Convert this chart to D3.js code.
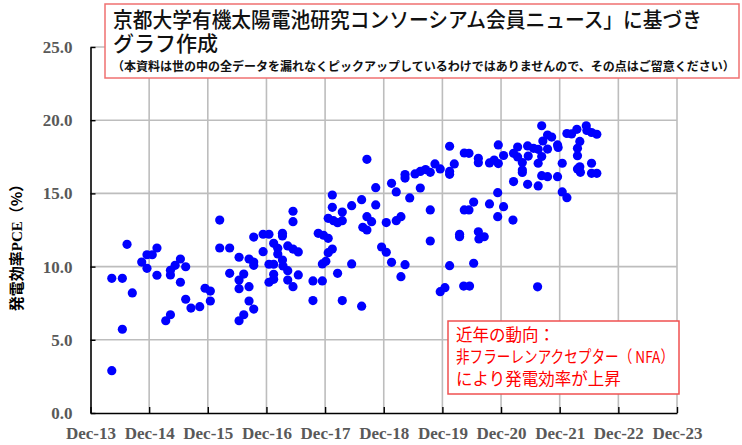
<!DOCTYPE html>
<html>
<head>
<meta charset="utf-8">
<script src="https://cdn.jsdelivr.net/npm/d3@7"></script>
<style>
  html, body { margin: 0; padding: 0; background: #fff; overflow: hidden; }
  svg { display: block; }
</style>
</head>
<body>
<svg id="chart" width="742" height="445"></svg>
<script>
// Publication date (decimal year) and power conversion efficiency (%) of each reported cell
const releaseDates = [
  2014.28, 2014.28, 2014.46, 2014.46, 2014.54, 2014.63, 2014.79, 2014.88, 2014.88, 2014.97,
  2015.05, 2015.05, 2015.20, 2015.28, 2015.28, 2015.28, 2015.36, 2015.45, 2015.54, 2015.45,
  2015.54, 2015.63, 2015.78, 2015.87, 2015.96, 2015.96, 2016.12, 2016.12, 2016.29, 2016.29,
  2016.45, 2016.45, 2016.45, 2016.53, 2016.62, 2016.62, 2016.70, 2016.53, 2016.45, 2016.62,
  2016.70, 2016.70, 2016.70, 2016.86, 2016.96, 2016.86, 2016.96, 2017.04, 2017.04, 2017.11,
  2017.11, 2017.19, 2017.19, 2017.19, 2017.20, 2017.28, 2017.04, 2017.04, 2016.96, 2017.28,
  2017.37, 2017.46, 2017.28, 2017.37, 2017.46, 2017.37, 2017.37, 2017.71, 2017.71, 2017.87,
  2017.87, 2017.93, 2017.97, 2018.04, 2018.13, 2018.21, 2018.37, 2018.54, 2017.80, 2017.89,
  2017.97, 2017.97, 2018.06, 2018.13, 2018.21, 2018.21, 2018.04, 2018.04, 2018.37, 2018.54,
  2018.56, 2018.63, 2018.63, 2018.71, 2018.78, 2018.78, 2018.63, 2018.88, 2018.96, 2019.05,
  2018.96, 2019.05, 2019.13, 2019.13, 2019.21, 2019.28, 2019.21, 2019.28, 2019.28, 2019.36,
  2019.45, 2019.54, 2019.54, 2019.63, 2019.71, 2019.79, 2019.88, 2019.71, 2019.71, 2020.04,
  2020.04, 2020.04, 2020.12, 2020.04, 2019.96, 2019.88, 2020.29, 2020.37, 2020.53, 2020.53,
  2020.72, 2020.80, 2020.87, 2020.87, 2020.96, 2021.13, 2021.20, 2021.20, 2021.28, 2021.28,
  2021.28, 2021.37, 2021.38, 2021.13, 2021.37, 2021.55, 2021.47, 2021.55, 2021.55, 2021.61,
  2021.63, 2021.61, 2021.71, 2021.71, 2021.78, 2021.88, 2021.89, 2021.96, 2021.61, 2021.71,
  2021.88, 2021.96, 2022.04, 2022.04, 2022.12, 2022.21, 2022.26, 2022.22, 2022.22, 2022.37,
  2022.38, 2022.46, 2022.55, 2022.26, 2022.22, 2022.27, 2022.46, 2022.46, 2022.55, 2020.28,
  2020.38, 2021.54, 2020.21, 2020.21, 2020.53, 2020.54, 2020.63, 2020.29, 2020.37, 2020.45,
  2020.72, 2020.86, 2020.96, 2020.86, 2021.12, 2020.45
];

const pceValues = [
  2.89, 9.20, 9.20, 5.72, 11.52, 8.20, 10.31, 10.81, 9.88, 10.81,
  11.27, 9.41, 6.30, 6.71, 9.75, 9.43, 10.09, 10.52, 9.99, 8.93,
  7.77, 7.17, 7.26, 8.52, 8.33, 7.65, 13.18, 11.27, 11.27, 9.54,
  10.64, 9.08, 8.49, 9.49, 8.63, 7.65, 7.10, 6.71, 6.30, 10.52,
  10.31, 10.09, 12.02, 12.21, 12.21, 11.02, 10.16, 10.16, 11.59, 11.25,
  10.86, 12.27, 12.09, 10.45, 10.04, 9.72, 9.47, 9.13, 8.93, 9.08,
  8.63, 9.43, 11.41, 11.20, 11.00, 13.78, 13.07, 9.02, 7.68, 9.02,
  10.18, 10.36, 10.95, 11.20, 9.54, 7.68, 10.18, 7.30, 12.27, 12.14,
  11.93, 13.30, 13.14, 13.00, 13.14, 13.73, 14.05, 14.89, 14.16, 14.57,
  12.68, 12.50, 13.41, 13.07, 14.21, 15.39, 17.33, 11.34, 10.98, 10.29,
  13.01, 15.69, 15.10, 13.14, 13.41, 10.13, 9.31, 16.29, 16.05, 14.69,
  16.33, 16.50, 15.37, 16.63, 16.44, 17.01, 16.67, 13.87, 11.75, 18.22,
  16.50, 16.30, 17.01, 10.06, 8.56, 8.29, 17.76, 17.74, 17.40, 17.10,
  17.08, 17.28, 18.31, 17.04, 17.59, 17.74, 18.17, 17.49, 17.11, 16.60,
  16.43, 18.24, 17.55, 15.81, 15.62, 15.51, 18.08, 18.01, 17.06, 19.62,
  18.58, 17.52, 18.99, 18.03, 18.85, 18.31, 18.14, 17.06, 16.21, 16.14,
  16.14, 15.10, 14.71, 19.09, 19.06, 19.38, 18.55, 18.08, 17.58, 19.62,
  19.30, 19.16, 19.04, 16.82, 16.67, 16.44, 17.06, 16.37, 16.37, 8.67,
  8.67, 8.62, 12.21, 12.04, 12.38, 11.89, 12.04, 13.87, 13.87, 14.41,
  14.28, 15.05, 14.09, 13.41, 13.18, 10.23
];

const xTickLabels = ["Dec-13", "Dec-14", "Dec-15", "Dec-16", "Dec-17", "Dec-18",
                     "Dec-19", "Dec-20", "Dec-21", "Dec-22", "Dec-23"];
const yTicks = [0, 5, 10, 15, 20, 25];

const titleLines = [
  "京都大学有機太陽電池研究コンソーシアム会員ニュース」に基づき",
  "グラフ作成"
];
const titleNote = "（本資料は世の中の全データを漏れなくピックアップしているわけではありませんので、その点はご留意ください）";
const noteLines = ["近年の動向：", "非フラーレンアクセプター（ NFA）", "により発電効率が上昇"];

(function drawChart() {
  const points = releaseDates.map((d, i) => ({ date: d, pce: pceValues[i] }));

  const svg = d3.select("#chart");
  const plotLeft = 90.5, plotRight = 677, plotTop = 47, plotBottom = 413;
  const startYear = 2013.917;
  const xTickValues = xTickLabels.map((_, i) => startYear + i);

  const x = d3.scaleLinear().domain([startYear, startYear + 10]).range([plotLeft, plotRight]);
  const y = d3.scaleLinear().domain([0, 25]).range([plotBottom, plotTop]);

  const serif = "'Liberation Serif', 'Times New Roman', serif";
  const jp = "'Noto Sans CJK JP', 'Noto Sans', sans-serif";

  // grid
  const grid = svg.append("g").attr("stroke", "#bdbdbd").attr("stroke-width", 1.6);
  grid.selectAll("line.v").data(xTickValues.slice(1)).join("line")
    .attr("class", "v")
    .attr("x1", d => x(d)).attr("x2", d => x(d))
    .attr("y1", plotTop).attr("y2", plotBottom);
  grid.selectAll("line.h").data(yTicks.slice(1)).join("line")
    .attr("class", "h")
    .attr("x1", plotLeft).attr("x2", plotRight)
    .attr("y1", d => y(d)).attr("y2", d => y(d));

  // axes
  const xAxis = svg.append("g")
    .attr("transform", `translate(0,${plotBottom})`)
    .call(d3.axisBottom(x).tickValues(xTickValues)
      .tickFormat((d, i) => xTickLabels[i]).tickSizeInner(-6).tickSizeOuter(0).tickPadding(14));
  const yAxis = svg.append("g")
    .attr("transform", `translate(${plotLeft},0)`)
    .call(d3.axisLeft(y).tickValues(yTicks)
      .tickFormat(d3.format(".1f")).tickSizeInner(-5).tickSizeOuter(0).tickPadding(18));

  [xAxis, yAxis].forEach(g => {
    g.select(".domain").attr("stroke", "#000").attr("stroke-width", 1.6);
    g.selectAll(".tick line").attr("stroke", "#000").attr("stroke-width", 1.4);
    g.selectAll(".tick text")
      .attr("fill", "#595959")
      .style("font-family", serif)
      .style("font-weight", "bold")
      .style("font-size", "17px");
  });

  // points
  svg.append("g").selectAll("circle").data(points).join("circle")
    .attr("cx", d => x(d.date))
    .attr("cy", d => y(d.pce))
    .attr("r", 4.6)
    .attr("fill", "#0000ff");

  // y axis title
  const yt = svg.append("text")
    .attr("transform", `translate(22,${(plotTop + plotBottom) / 2 + 14}) rotate(-90)`)
    .attr("text-anchor", "middle")
    .style("font-family", jp)
    .style("font-weight", "bold")
    .style("font-size", "15px")
    .attr("fill", "#000");
  yt.append("tspan").text("発電効率");
  yt.append("tspan").style("font-family", serif).text("PCE");
  yt.append("tspan").text("（%）");

  // title box: two-line heading plus a note line
  svg.append("rect")
    .attr("x", 105).attr("y", 4).attr("width", 634).attr("height", 74)
    .attr("fill", "#fff").attr("stroke", "#f07070").attr("stroke-width", 1.5);
  const heading = svg.append("text")
    .style("font-family", jp).style("font-size", "21px").style("font-weight", 500)
    .attr("fill", "#111");
  heading.selectAll("tspan").data(titleLines).join("tspan")
    .attr("x", 113).attr("y", (d, i) => 27 + i * 24)
    .text(d => d)
    .each(function (d, i) {
      if (i === 0) d3.select(this).attr("textLength", 589).attr("lengthAdjust", "spacingAndGlyphs");
    });
  svg.append("text")
    .attr("x", 112).attr("y", 71)
    .style("font-family", jp).style("font-size", "12px").style("font-weight", "bold")
    .attr("fill", "#111")
    .text(titleNote);

  // annotation box
  svg.append("rect")
    .attr("x", 448).attr("y", 321).attr("width", 231).attr("height", 73)
    .attr("fill", "#fff").attr("stroke", "#f05050").attr("stroke-width", 1.5);
  svg.append("g").selectAll("text").data(noteLines).join("text")
    .attr("x", 456).attr("y", (d, i) => 341 + i * 22)
    .style("font-family", jp).style("font-size", "16.5px")
    .attr("fill", "#ff0000")
    .each(function (d, i) {
      const t = d3.select(this).text(d);
      if (i === 1) t.attr("textLength", 218).attr("lengthAdjust", "spacingAndGlyphs");
    });
})();
</script>
</body>
</html>
